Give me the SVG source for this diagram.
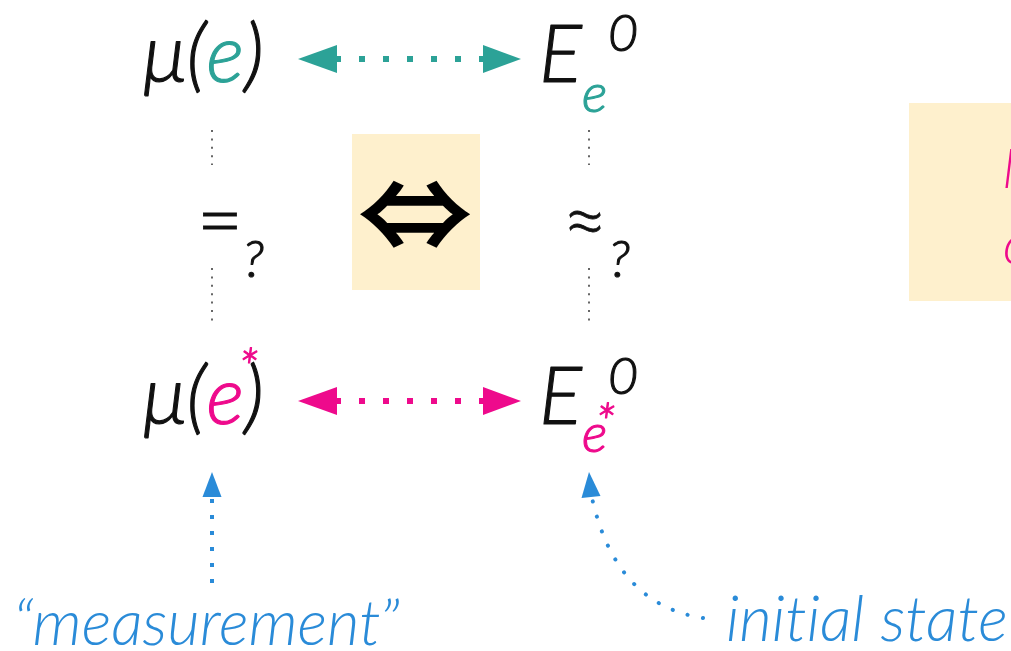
<svg xmlns="http://www.w3.org/2000/svg" width="1011" height="651" viewBox="0 0 1011 651">
<style>
.m{font-family:Lato,"Liberation Sans",sans-serif;font-style:italic;font-weight:300;stroke-width:1.1;stroke-linejoin:round}
.l{font-family:Lato,"Liberation Sans",sans-serif;font-style:italic;font-weight:300;font-variant-ligatures:none;}
.k{fill:#111;stroke:#111}
.t{fill:#2ca297;stroke:#2ca297}
.p{fill:#ee0a8c;stroke:#ee0a8c}
.b{fill:#2a8bd8}
.pl{fill:#ee0a8c}
.g{stroke:#666;stroke-width:2;stroke-dasharray:2 6.4;fill:none}
</style>
<rect width="1011" height="651" fill="#fff"/>
<g id="box-equiv">
<rect x="352" y="134" width="128" height="156" fill="#fef0cd"/>
<g transform="translate(415 218) scale(0.96 0.8) translate(-415 -218)"><text x="415" y="258" font-family="'Noto Sans CJK JP',sans-serif" font-weight="bold" font-size="120" text-anchor="middle" fill="#000">⇔</text></g>
</g>
<g id="box-right">
<rect x="909" y="103" width="102" height="198" fill="#fef0cd"/>
<text class="l pl" x="1002" y="188" font-size="55">M</text>
<text class="l pl" x="1003" y="264" font-size="55">c</text>
</g>
<g id="mu-e">
<text class="m k" x="143" y="82" font-size="80">μ(<tspan class="t">e</tspan>)</text>
</g>
<g id="E-e">
<text class="m k" x="539" y="82" font-size="80">E</text>
<text class="m k" x="608" y="51" font-size="52">0</text>
<text class="m t" x="582" y="112" font-size="54">e</text>
</g>
<g id="mu-estar">
<text class="m k" x="143" y="424" font-size="80">μ(<tspan class="p">e</tspan>)</text>
<text class="m p" x="238" y="386" font-size="52" stroke-width="1.6">*</text>
</g>
<g id="E-estar">
<text class="m k" x="539" y="424" font-size="80">E</text>
<text class="m k" x="608" y="394" font-size="52">0</text>
<text class="m p" x="582" y="452" font-size="54">e</text>
<text class="m p" x="595" y="441" font-size="52" stroke-width="1.6">*</text>
</g>
<g id="eq">
<text x="220" y="249" font-family="Lato,sans-serif" font-weight="300" font-size="80" text-anchor="middle" fill="#111" stroke="#111" stroke-width="0.8">=</text>
<text class="m k" x="243" y="277" font-size="52">?</text>
</g>
<g id="approx">
<text x="585" y="249" font-family="Lato,sans-serif" font-weight="300" font-size="80" text-anchor="middle" fill="#111" stroke="#111" stroke-width="0.8">≈</text>
<text class="m k" x="609" y="277" font-size="52">?</text>
</g>
<g id="label-measurement">
<text class="l b" x="13" y="645" font-size="63">“measurement”</text>
</g>
<g id="label-initial">
<text class="l b" x="726" y="641" font-size="63">initial state</text>
</g>
<g id="connectors">
<path class="g" d="M212 130V165M212 268V326M589 130V165M589 268V326"/>
<path d="M335 59H485" stroke="#2ca297" stroke-width="6" stroke-dasharray="6 18"/>
<polygon points="298,59 337,45 337,73" fill="#2ca297"/>
<polygon points="521,59 483,45 483,73" fill="#2ca297"/>
<path d="M335 401H485" stroke="#ee0a8c" stroke-width="6" stroke-dasharray="6 18"/>
<polygon points="298,401 337,387 337,415" fill="#ee0a8c"/>
<polygon points="521,401 483,387 483,415" fill="#ee0a8c"/>
<path d="M212 583V497" stroke="#2a8bd8" stroke-width="4" stroke-dasharray="4 12"/>
<polygon points="212,472 202.5,497 221.5,497" fill="#2a8bd8"/>
<path d="M703 618Q616 605 592 498" stroke="#2a8bd8" stroke-width="4" stroke-linecap="round" stroke-dasharray="0.1 15.5" fill="none"/>
<polygon points="589,472 581.5,498 600.5,496" fill="#2a8bd8"/>
</g>
</svg>
